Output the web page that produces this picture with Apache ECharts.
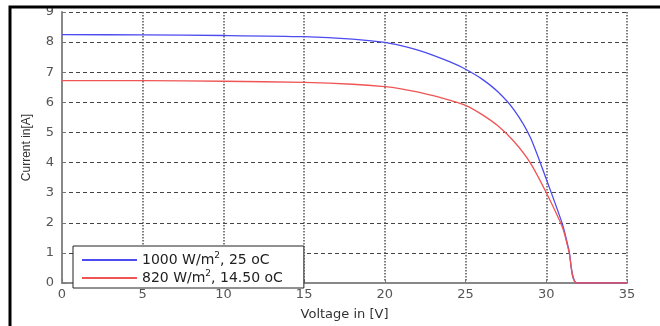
<!DOCTYPE html>
<html>
<head>
<meta charset="utf-8">
<script src="https://cdn.jsdelivr.net/npm/echarts@6/dist/echarts.min.js"></script>
<style>
  html, body { margin: 0; padding: 0; background: #fff; }
  #chart { width: 660px; height: 326px; }
</style>
</head>
<body>
<div id="chart"></div>
<script>
// 读图得到的数据 (V, I)
const seriesNames = ['1000 W/m2, 25 oC', '820 W/m2, 14.50 oC']
const voltBlue = [0, 5, 10, 15, 18, 20, 21, 22, 23, 24, 25, 26, 27, 28, 29, 30, 31, 31.4, 31.9, 35]
const currBlue = [8.25, 8.24, 8.22, 8.18, 8.1, 7.99, 7.88, 7.74, 7.56, 7.35, 7.1, 6.78, 6.35, 5.75, 4.85, 3.45, 1.95, 1.1, 0, 0]
const voltRed = [0, 5, 10, 15, 18, 20, 21, 22, 23, 24, 25, 26, 27, 28, 29, 30, 31, 31.4, 31.9, 35]
const currRed = [6.72, 6.72, 6.7, 6.66, 6.6, 6.52, 6.45, 6.35, 6.22, 6.07, 5.9, 5.6, 5.22, 4.7, 4.0, 3.0, 1.85, 1.05, 0, 0]
const xTicks = { min: 0, max: 35, interval: 5 }
const yTicks = { min: 0, max: 9, interval: 1 }

const chart = echarts.init(document.getElementById('chart'))

const pairs = (xs, ys) => xs.map((x, i) => [x, ys[i]])
const labelFont = 'DejaVu Sans'

const option = {
  animation: false,
  backgroundColor: '#fff',
  graphic: [
    {
      // 外框 (只有左边和上边在图内)
      type: 'polyline',
      shape: { points: [[10, 330], [10, 7], [670, 7]] },
      style: { fill: 'none', stroke: '#000', lineWidth: 3 },
      z: 100
    }
  ],
  grid: { left: 62, right: 33, top: 12, bottom: 35 },
  legend: {
    orient: 'vertical',
    left: 73,
    top: 246,
    padding: [5, 21, 1, 9],
    itemGap: 0,
    itemWidth: 55,
    itemHeight: 2,
    icon: 'rect',
    backgroundColor: '#fff',
    borderColor: '#222',
    borderWidth: 1,
    data: seriesNames,
    formatter: name => name.replace('m2', 'm{sup|2}'),
    textStyle: {
      fontFamily: labelFont,
      fontSize: 14,
      lineHeight: 18,
      color: '#222',
      rich: {
        sup: { fontFamily: labelFont, fontSize: 9, lineHeight: 18, color: '#222', padding: [0, 0, 8, 0] }
      }
    }
  },
  xAxis: {
    type: 'value',
    min: xTicks.min,
    max: xTicks.max,
    interval: xTicks.interval,
    name: 'Voltage in [V]',
    nameLocation: 'middle',
    nameGap: 25,
    nameTextStyle: { fontFamily: labelFont, fontSize: 13, color: '#333' },
    axisLine: { lineStyle: { color: '#888', width: 2 } },
    axisTick: { inside: true, length: 4, lineStyle: { color: '#777' } },
    axisLabel: { fontFamily: labelFont, fontSize: 13, color: '#555', margin: 5 },
    splitLine: { show: true, lineStyle: { color: '#555', width: 1.5, type: [1.5, 1.5] } }
  },
  yAxis: {
    type: 'value',
    min: yTicks.min,
    max: yTicks.max,
    interval: yTicks.interval,
    name: 'Current in[A]',
    nameLocation: 'middle',
    nameGap: 29,
    nameTextStyle: { fontFamily: 'Liberation Sans', fontSize: 12, color: '#333' },
    axisLine: { show: true, lineStyle: { color: '#888', width: 2 } },
    axisTick: { show: true, inside: true, length: 4, lineStyle: { color: '#777' } },
    axisLabel: { fontFamily: labelFont, fontSize: 13, color: '#555', margin: 8 },
    splitLine: { show: true, lineStyle: { color: '#444', width: 1, type: [4, 3] } }
  },
  series: [
    {
      name: seriesNames[0],
      type: 'line',
      showSymbol: false,
      smooth: 0.25,
      color: '#4b4bef',
      lineStyle: { width: 1.3 },
      data: pairs(voltBlue, currBlue)
    },
    {
      name: seriesNames[1],
      type: 'line',
      showSymbol: false,
      smooth: 0.25,
      color: '#ef5555',
      lineStyle: { width: 1.3 },
      data: pairs(voltRed, currRed)
    }
  ]
}

chart.setOption(option)
</script>
</body>
</html>
